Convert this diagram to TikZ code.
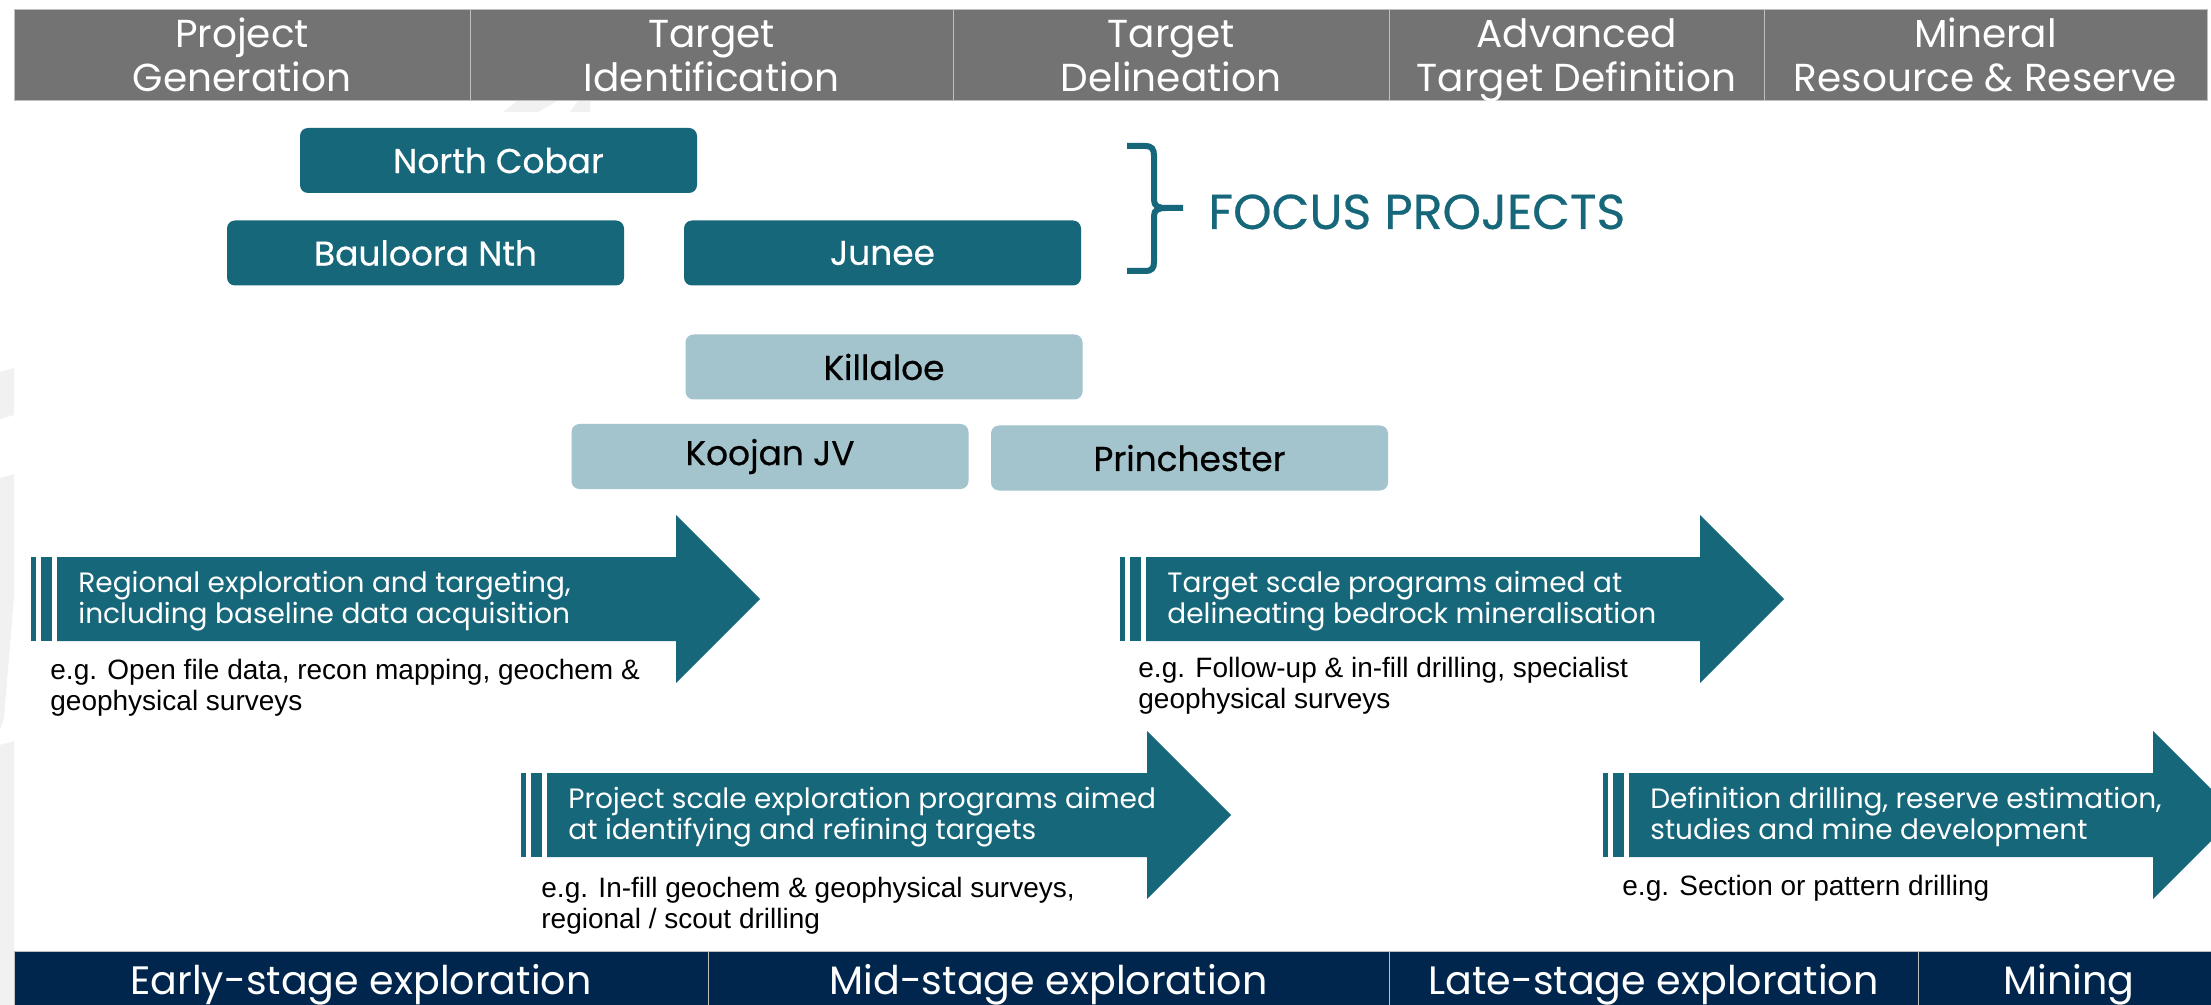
\documentclass[tikz,border=0pt]{standalone}
\usepackage{fontspec}
\setmainfont{Poppins}
\newfontfamily\boxfont{Poppins}[FakeBold=0.5]
\newfontfamily\egfont{Liberation Sans}
\definecolor{projteal}{HTML}{17677A}
\definecolor{lightbox}{HTML}{A3C3CD}
\definecolor{hdrgray}{HTML}{737373}
\definecolor{navy}{HTML}{00264D}
\definecolor{wmark}{HTML}{F1F1F1}
\newcommand\stagearrow[3]{%
  \fill[projteal] (#1,#3-42) rectangle ++(5,84);
  \fill[projteal] (#1+10,#3-42) rectangle ++(11,84);
  \fill[projteal] (#1+26,#3-42) -- (#2,#3-42) -- (#2,#3-84) -- (#2+84,#3)
    -- (#2,#3+84) -- (#2,#3+42) -- (#1+26,#3+42) -- cycle;}

\begin{document}
\begin{tikzpicture}[x=0.5pt,y=-0.5pt,
  hdr/.style={text=white,align=center,font=\fontsize{19.5}{22}\selectfont},
  focus/.style={fill=projteal,rounded corners=4pt,minimum width=198.5pt,minimum height=32.5pt,
    text=white,font=\boxfont\fontsize{17.2}{19}\selectfont},
  other/.style={focus,fill=lightbox,text=black},
  stagetext/.style={text=white,anchor=west,align=left,inner sep=0pt,font=\fontsize{14}{15.5}\selectfont},
  eg/.style={anchor=north west,align=left,inner sep=0pt,font=\egfont\fontsize{14}{15.5}\selectfont},
  phase/.style={text=white,anchor=base,font=\fontsize{19.8}{24}\selectfont}]
  \path[use as bounding box,clip] (0,0) rectangle (2211,1005);
  \fill[white] (0,0) rectangle (2211,1005);
  \fill[wmark] (0,372) -- (14,368) -- (14,415) -- (0,419) -- cycle;
  \fill[wmark] (0,478) -- (14,474) -- (14,597) -- (4,718) -- (0,730) -- cycle;
  \fill[wmark] (0,745) -- (14,741) -- (14,1005) -- (0,1005) -- cycle;
  \fill[wmark] (503,112) -- (517,101) -- (557,101) -- (538,112) -- cycle;
  \fill[wmark] (570,112) -- (578,101) -- (590,101) -- (590,112) -- cycle;

  \foreach \l/\r/\t [count=\i] in {14/470/{Project\\Generation},470/953/{Target\\Identification},
      953/1389/{Target\\Delineation},1389/1764/{Advanced\\Target Definition},
      1764/2207/{Mineral\\Resource \& Reserve}}{
    \draw[fill=hdrgray,draw=gray!50] (\l,9) rectangle (\r,100);
    \node[hdr] (h\i) at ({(\l+\r)/2},61) {\strut\t\strut};
  }

  \node[focus] (nc) at (498.5,160.5) {North Cobar};
  \node[focus] (bn) at (425.5,253) {Bauloora Nth};
  \node[focus] (ju) at (882.5,253) {Junee};
  \node[other] (ki) at (884,367) {Killaloe};
  \node[other] (kj) at (770,456.5) {Koojan JV};
  \node[other] (pr) at (1189.5,458) {Princhester};

  \draw[projteal,line width=3pt] (1127,146) -- (1145,146) .. controls (1152,146) and (1154,149) .. (1154,156)
    -- (1154,200) .. controls (1154,206) and (1158,208) .. (1166,208) -- (1183,208)
    (1166,208) .. controls (1158,208) and (1154,210) .. (1154,216) -- (1154,262)
    .. controls (1154,268) and (1152,271) .. (1145,271) -- (1127,271);
  \node[anchor=base west,inner sep=0pt,text=projteal,font=\boxfont\fontsize{24.5}{28}\selectfont] (fp) at (1208,229) {FOCUS PROJECTS};

  \stagearrow{31}{676}{599}
  \stagearrow{1120}{1700}{599}
  \stagearrow{521}{1147}{815}
  \stagearrow{1603}{2153}{815}
  \node[stagetext] (s1) at (78,601) {Regional exploration and targeting,\\including baseline data acquisition};
  \node[eg] (e1) at (50,659) {e.g. Open file data, recon mapping, geochem \&\\geophysical surveys};
  \node[stagetext] (s2) at (1167,601) {Target scale programs aimed at\\delineating bedrock mineralisation};
  \node[eg] (e2) at (1138,657) {e.g. Follow-up \& in-fill drilling, specialist\\geophysical surveys};
  \node[stagetext] (s3) at (568,817) {Project scale exploration programs aimed\\at identifying and refining targets};
  \node[eg] (e3) at (541,877) {e.g. In-fill geochem \& geophysical surveys,\\regional / scout drilling};
  \node[stagetext] (s4) at (1650,817) {Definition drilling, reserve estimation,\\studies and mine development};
  \node[eg] (e4) at (1622,875) {e.g. Section or pattern drilling};

  \foreach \l/\r/\t [count=\i] in {14/708/Early-stage exploration,708/1389/Mid-stage exploration,
      1389/1918/Late-stage exploration,1918/2220/Mining}{
    \draw[fill=navy,draw=gray!50] (\l,951) rectangle (\r,1010);
    \node[phase] (p\i) at ({(\l+\r)/2},994) {\t};
  }
\end{tikzpicture}
\end{document}
